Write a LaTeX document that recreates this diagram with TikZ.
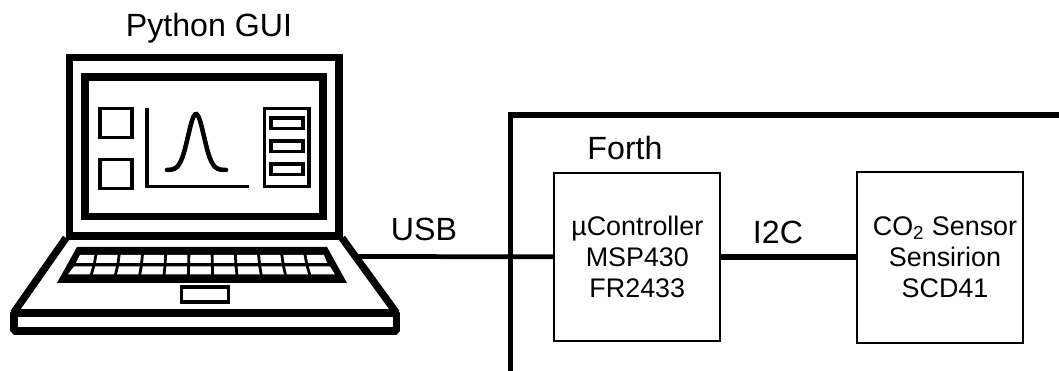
\documentclass[tikz,border=0pt]{standalone}
\usepackage{fontspec}
\setmainfont{Liberation Sans}
\usetikzlibrary{positioning}

\tikzset{
  biglabel/.style={font=\fontsize{18.3}{22}\selectfont, inner sep=0pt},
  chipbox/.style={draw, line width=1.2pt, minimum width=0.02cm*166, minimum height=0.02cm*168,
                  inner sep=0pt, align=center, font=\fontsize{15.3}{17.6}\selectfont},
  busline/.style={line width=2.7pt},
  shell/.style={line width=4.5pt},
  icon/.style={line width=2pt}
}

\begin{document}
\begin{tikzpicture}[x=0.02cm, y=-0.02cm]
  \useasboundingbox (0,0) rectangle (1059,371);
  % ── Board outline, runs off the page ──────────────────────────
  \draw[line width=2.9pt] (510.7,371) -- (510.7,115) -- (1059,115);
  % ── Laptop lid and screen ─────────────────────────────────────
  \draw[shell] (69.5,236) -- (69.5,57.5) -- (339,57.5) -- (339,236) -- cycle;
  \draw[shell] (85,77) rectangle (323,216.5);
  % left buttons
  \foreach \y in {108.5, 159.5} {
    \draw[icon] (100,\y) rectangle (132,\y+29);
  }
  % plot axes and peak
  \draw[icon] (147,108) -- (147,186.5) -- (249,186.5);
  \draw[line width=2.6pt, line cap=round] plot[smooth, samples=41, domain=167:226]
    (\x,{170-56*exp(-(\x-196)*(\x-196)/125)});
  % right panel with three bars
  \draw[icon] (264.5,108.5) rectangle (309,186.5);
  \foreach \y in {118, 141, 164} {
    \draw[icon] (271,\y) rectangle (303,\y+10.5);
  }
  % ── Laptop base ───────────────────────────────────────────────
  \draw[line width=4.2pt] (66,238) -- (13.5,313);
  \draw[line width=4.2pt] (342,238) -- (396.5,313);
  \draw[shell, line join=bevel] (14,313) rectangle (396.5,331);
  \fill (77,247) -- (327,247) -- (347,283) -- (57,283) -- cycle;
  % keyboard rows, then the gaps between keys
  \fill[white] (80,255) -- (324,255) -- (327,263) -- (76,263) -- cycle;
  \fill[white] (74,266.5) -- (330,266.5) -- (335,274.5) -- (68,274.5) -- cycle;
  \foreach \k in {-4.5,-3.5,...,4.5} {
    \draw[line width=1.6pt] (200.5+23.2*\k,254) -- (200.5+23.6*\k,264);
    \draw[line width=1.6pt] (200.5+23.7*\k,266) -- (200.5+24.3*\k,275);
  }
  \draw[icon] (181.5,287) rectangle (228.5,302);
  % ── Labels and blocks ─────────────────────────────────────────
  \node[biglabel] (gui) at (209,28) {Python GUI};
  \coordinate (usbport) at (355,256.5);
  \node[chipbox] (mcu) at (637.3,256.8) {µController\\MSP430\\FR2433};
  \node[chipbox, minimum height=0.02cm*171] (sensor) at (939.8,257.5) {};
  \node[align=center, inner sep=0pt, font=\fontsize{15.3}{17.6}\selectfont] (sensortext)
    at (945,257) {CO\textsubscript{2} Sensor\\Sensirion\\SCD41};
  \node[biglabel] (forth) at (625,148) {Forth};
  \draw[busline] (usbport) -- (mcu.west);
  \draw[line width=3.2pt] (mcu.east) -- (mcu.east -| sensor.west);
  \node[biglabel] (usb) at (424,229) {USB};
  \node[biglabel] (itwoc) at (778,232) {I2C};
\end{tikzpicture}
\end{document}
